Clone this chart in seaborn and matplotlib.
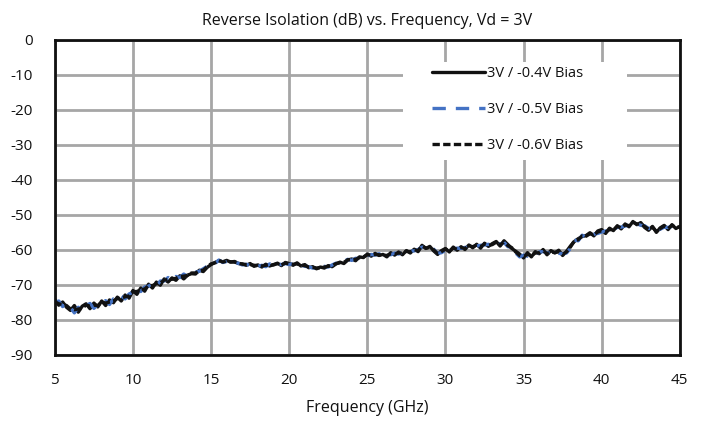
import numpy as np
import pandas as pd
import matplotlib
matplotlib.use("Agg")
import matplotlib.pyplot as plt
from matplotlib.patches import Rectangle
import seaborn as sns

freq_start, freq_step = 5.0, 0.25

bias_04 = [
    -74.2, -75.8, -74.9, -76.4, -77.3, -75.9, -77.8, -76.1, -75.4, -76.8, -75.2, -76.3,
    -74.6, -75.9, -74.3, -75.1, -73.5, -74.6, -72.9, -73.8, -71.6, -72.7, -70.9, -71.8,
    -69.8, -70.9, -69.2, -70.1, -68.3, -69.2, -68.0, -68.7, -67.4, -68.3, -67.2, -66.8,
    -66.9, -65.8, -66.2, -65.0, -64.2, -63.6, -63.1, -63.4, -63.0, -63.5, -63.3, -63.9,
    -64.0, -64.4, -63.9, -64.7, -64.3, -64.9, -64.1, -64.6, -64.2, -63.8, -64.5, -63.6,
    -63.9, -64.4, -63.7, -64.6, -64.2, -65.1, -64.8, -65.4, -64.9, -65.2, -64.5, -64.8,
    -64.0, -63.5, -63.9, -62.9, -62.6, -63.1, -62.0, -62.2, -61.2, -61.8, -61.0, -61.6,
    -61.3, -62.0, -60.8, -61.5, -60.6, -61.4, -60.2, -60.9, -59.8, -60.5, -58.7, -59.6,
    -59.0, -60.3, -61.3, -60.2, -59.6, -60.6, -59.2, -60.1, -59.1, -59.9, -58.6, -59.4,
    -58.4, -59.5, -58.1, -59.0, -58.2, -57.6, -58.9, -57.4, -58.5, -59.6, -60.4, -61.2,
    -62.3, -60.8, -62.0, -60.5, -61.1, -59.9, -61.4, -60.2, -60.9, -60.1, -61.6, -60.4,
    -58.9, -57.6, -56.8, -56.2, -55.9, -55.1, -56.0, -54.6, -54.2, -55.3, -53.8, -54.5,
    -53.1, -54.0, -52.6, -53.4, -51.9, -52.8, -52.2, -53.6, -54.4, -53.3, -55.0, -53.7,
    -53.0, -54.2, -52.8, -53.9, -53.3,
]

bias_05 = [
    -75.1, -74.6, -76.2, -75.3, -76.5, -78.0, -76.4, -77.2, -76.0, -75.3, -76.7, -75.6,
    -75.2, -74.5, -75.6, -74.0, -74.2, -73.1, -74.0, -72.6, -72.1, -71.3, -71.9, -70.6,
    -70.4, -69.5, -70.3, -68.9, -68.9, -67.9, -68.8, -67.6, -67.9, -66.9, -67.6, -66.3,
    -66.4, -66.1, -65.4, -64.7, -63.8, -63.9, -62.9, -63.6, -63.3, -63.2, -63.7, -63.8,
    -64.3, -64.1, -64.5, -64.2, -64.7, -64.4, -64.8, -64.0, -64.5, -64.0, -64.2, -63.9,
    -64.2, -63.9, -64.3, -64.2, -64.7, -64.8, -65.2, -65.0, -65.3, -64.7, -64.9, -64.3,
    -63.8, -63.8, -63.3, -62.7, -63.0, -62.4, -62.5, -61.7, -61.7, -61.3, -61.5, -61.1,
    -61.8, -61.2, -61.4, -60.9, -61.2, -60.7, -60.6, -60.3, -60.3, -59.9, -59.2, -59.3,
    -59.6, -59.8, -61.0, -60.8, -60.1, -60.0, -59.8, -59.5, -59.6, -59.3, -59.2, -58.9,
    -58.9, -58.7, -58.6, -58.4, -58.8, -57.9, -58.4, -57.9, -59.1, -59.2, -60.9, -62.0,
    -61.5, -61.8, -61.2, -61.3, -60.6, -60.5, -60.8, -61.0, -60.5, -61.0, -61.1, -60.9,
    -59.6, -57.2, -57.4, -55.8, -56.4, -55.8, -55.5, -55.3, -54.9, -54.6, -54.8, -54.0,
    -53.6, -53.5, -53.2, -52.9, -52.4, -52.5, -53.0, -53.1, -53.9, -53.8, -54.4, -54.1,
    -53.5, -53.6, -53.3, -53.4, -53.8,
]

bias_06 = [
    -74.8, -75.4, -75.6, -75.9, -76.9, -77.1, -76.9, -76.7, -75.7, -76.1, -75.8, -75.9,
    -74.9, -75.2, -74.9, -74.6, -73.9, -73.8, -73.4, -73.2, -71.9, -71.9, -71.4, -71.2,
    -70.2, -70.2, -69.7, -69.5, -68.6, -68.5, -68.4, -68.1, -67.6, -67.5, -67.3, -66.6,
    -66.6, -66.0, -65.8, -64.8, -64.0, -63.7, -63.0, -63.5, -63.2, -63.4, -63.5, -63.8,
    -64.1, -64.2, -64.2, -64.4, -64.5, -64.6, -64.4, -64.3, -64.3, -63.9, -64.3, -63.8,
    -64.0, -64.1, -64.0, -64.4, -64.5, -64.9, -65.0, -65.2, -65.1, -64.9, -64.7, -64.5,
    -63.9, -63.7, -63.6, -62.8, -62.8, -62.7, -62.2, -62.0, -61.4, -61.5, -61.3, -61.4,
    -61.5, -61.6, -61.1, -61.2, -60.9, -61.0, -60.4, -60.6, -60.0, -60.2, -58.9, -59.5,
    -59.3, -60.0, -61.1, -60.5, -59.8, -60.3, -59.5, -59.8, -59.3, -59.6, -58.9, -59.1,
    -58.6, -59.1, -58.3, -58.7, -58.5, -57.8, -58.6, -57.7, -58.8, -59.4, -60.6, -61.6,
    -61.9, -61.3, -61.6, -60.9, -60.8, -60.2, -61.1, -60.6, -60.7, -60.6, -61.3, -60.6,
    -59.2, -57.4, -57.1, -56.0, -56.1, -55.4, -55.7, -54.9, -54.5, -54.9, -54.2, -54.3,
    -53.3, -53.7, -52.9, -53.1, -52.1, -52.6, -52.6, -53.3, -54.1, -53.5, -54.7, -53.9,
    -53.2, -53.9, -53.0, -53.6, -53.5,
]

labels = ["3V / -0.4V Bias", "3V / -0.5V Bias", "3V / -0.6V Bias"]
x_ticks = [5, 10, 15, 20, 25, 30, 35, 40, 45]
y_ticks = [0, -10, -20, -30, -40, -50, -60, -70, -80, -90]

freq = freq_start + freq_step * np.arange(len(bias_04))
df = pd.concat([
    pd.DataFrame({"Frequency": freq, "dB": bias_04, "Series": labels[0]}),
    pd.DataFrame({"Frequency": freq, "dB": bias_05, "Series": labels[1]}),
    pd.DataFrame({"Frequency": freq, "dB": bias_06, "Series": labels[2]}),
])

sns.set_theme(style="white")
plt.rcParams["font.family"] = ["Open Sans", "DejaVu Sans"]
plt.rcParams["axes.unicode_minus"] = False

fig = plt.figure(figsize=(7.03, 4.24), dpi=100)
ax = fig.add_axes([0.078, 0.163, 0.889, 0.743])

styles = [
    dict(color="#111111", linestyle="-", linewidth=2.4),
    dict(color="#4472C4", linestyle=(0, (4, 3)), linewidth=2.4),
    dict(color="#111111", linestyle=(0, (2.2, 1)), linewidth=2.4),
]
for lab, st in zip(labels, styles):
    sns.lineplot(data=df[df["Series"] == lab], x="Frequency", y="dB", ax=ax,
                 label=lab, **st)

ax.set_xlim(5, 45)
ax.set_ylim(-90, 0)
ax.set_xticks(x_ticks)
ax.set_yticks(y_ticks)
ax.grid(True, color="#a6a6a6", linewidth=2)
ax.set_axisbelow(True)
for s in ax.spines.values():
    s.set_visible(True)
    s.set_color("#111111")
    s.set_linewidth(2)
ax.tick_params(axis="both", length=0, labelsize=11, colors="#111111")
ax.tick_params(axis="x", pad=13)
ax.tick_params(axis="y", pad=16)

ax.set_title("Reverse Isolation (dB) vs. Frequency, Vd = 3V", fontsize=11.5,
             color="#111111", pad=11)
ax.set_xlabel("Frequency (GHz)", fontsize=11.5, color="#111111", labelpad=9)
ax.set_ylabel("")

# white background area behind the legend (covers gridlines)
bg = Rectangle((403 / 703, 1 - 160 / 424), 224 / 703, 98 / 424,
               transform=fig.transFigure, facecolor="white", edgecolor="none",
               zorder=1, clip_on=False)
ax.add_patch(bg)

leg = ax.legend(loc="upper left", bbox_to_anchor=(432 / 703, 1 - 66 / 424),
                bbox_transform=fig.transFigure, frameon=False, fontsize=10.5,
                handlelength=3.6, handletextpad=0.15, labelspacing=1.45,
                borderpad=0, borderaxespad=0)
for t in leg.get_texts():
    t.set_color("#111111")

fig.savefig("out.png", dpi=100)
